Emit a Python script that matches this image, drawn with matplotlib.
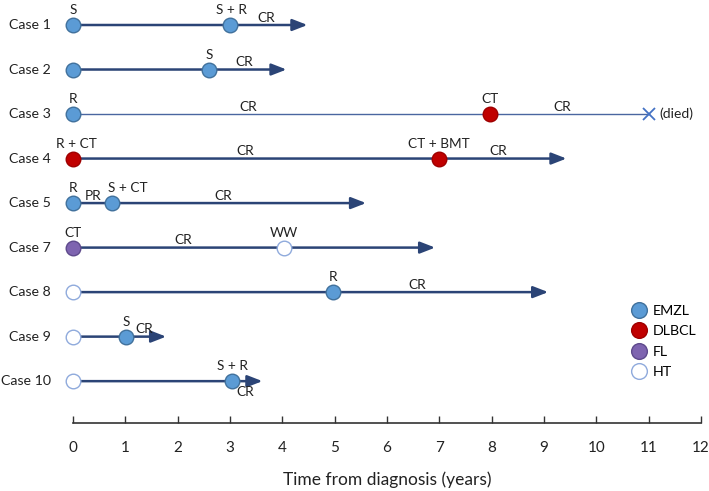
import matplotlib.pyplot as plt
from matplotlib.lines import Line2D

plt.rcParams['font.family'] = ['Lato', 'DejaVu Sans']

cases = ['Case 1', 'Case 2', 'Case 3', 'Case 4', 'Case 5', 'Case 7', 'Case 8', 'Case 9', 'Case 10']
# end of each timeline (years)
ends = [4.48, 4.08, 11.0, 9.43, 5.6, 6.92, 9.08, 1.78, 3.62]
# events: (case index, time, histology, label)
events = [
    (0, 0, 'EMZL', 'S'), (0, 3.0, 'EMZL', 'S + R'),
    (1, 0, 'EMZL', ''), (1, 2.6, 'EMZL', 'S'),
    (2, 0, 'EMZL', 'R'), (2, 7.97, 'DLBCL', 'CT'),
    (3, 0, 'DLBCL', 'R + CT'), (3, 7.0, 'DLBCL', 'CT + BMT'),
    (4, 0, 'EMZL', 'R'), (4, 0.75, 'EMZL', 'S + CT'),
    (5, 0, 'FL', 'CT'), (5, 4.03, 'HT', 'WW'),
    (6, 0, 'HT', ''), (6, 4.97, 'EMZL', 'R'),
    (7, 0, 'HT', ''), (7, 1.02, 'EMZL', 'S'),
    (8, 0, 'HT', ''), (8, 3.03, 'EMZL', 'S + R'),
]
# response labels: (case index, time, label, above)
responses = [
    (0, 3.7, 'CR', True), (1, 3.27, 'CR', True),
    (2, 3.35, 'CR', True), (2, 9.35, 'CR', True),
    (3, 3.3, 'CR', True), (3, 8.13, 'CR', True),
    (4, 0.38, 'PR', True), (4, 2.88, 'CR', True),
    (5, 2.1, 'CR', True), (6, 6.58, 'CR', True),
    (7, 1.36, 'CR', True), (8, 3.3, 'CR', False),
]
label_shift = {(3, 0): 0.07, (4, 0.75): 1.05, (8, 3.03): 3.05, (0, 3.0): 3.03}

face = {'EMZL': '#5B9BD5', 'DLBCL': '#C00000', 'FL': '#7E64B0', 'HT': 'white'}
edge = {'EMZL': '#41719C', 'DLBCL': '#9E0000', 'FL': '#5E4A8C', 'HT': '#8FAADC'}
navy = '#2B4476'

fig = plt.figure(figsize=(7.09, 4.91), dpi=100)
ax = fig.add_axes([73 / 709, 1 - 423 / 491, 628 / 709, 413 / 491])
ax.set_xlim(0, 12)
ax.set_ylim(8.94, -0.337)

for i, end in enumerate(ends):
    if i == 2:
        ax.plot([0, end], [i, i], color='#4A66A0', lw=1.0, zorder=1)
        ax.plot(end, i, marker='x', color='#4472C4', ms=9, mew=1.3, clip_on=False)
        ax.text(end + 0.2, i, '(died)', fontsize=10, va='center', color='#222222')
    else:
        ax.annotate('', xy=(end, i), xytext=(0, i),
                    arrowprops=dict(arrowstyle='-|>,head_length=0.9,head_width=0.35',
                                    color=navy, lw=1.8, shrinkA=0, shrinkB=0),
                    zorder=1)

for i, t, h, lab in events:
    ax.plot(t, i, 'o', ms=10.5, mfc=face[h], mec=edge[h], mew=1.0, clip_on=False, zorder=3)
    if lab:
        ax.text(label_shift.get((i, t), t), i - 0.2, lab, fontsize=9.8,
                ha='center', va='bottom', color='#222222')

for i, t, lab, above in responses:
    if above:
        ax.text(t, i - 0.03, lab, fontsize=9.8, ha='center', va='bottom', color='#222222')
    else:
        ax.text(t, i + 0.12, lab, fontsize=9.8, ha='center', va='top', color='#222222')

for i, c in enumerate(cases):
    ax.text(-0.42, i, c, fontsize=10.2, ha='right', va='center', color='#222222')

for s in ['top', 'right', 'left']:
    ax.spines[s].set_visible(False)
ax.spines['bottom'].set_bounds(0, 12)
ax.spines['bottom'].set_color('#333333')
ax.spines['bottom'].set_linewidth(1.2)
ax.set_yticks([])
ax.set_xticks(range(13))
ax.tick_params(axis='x', direction='in', length=5, width=1.0, color='#333333',
               labelsize=11, labelcolor='#222222', pad=13)
ax.set_xlabel('Time from diagnosis (years)', fontsize=12.5, color='#222222', labelpad=12)

handles = [Line2D([], [], ls='', marker='o', ms=11.3, mfc=face[h], mec=edge[h], mew=1.0)
           for h in ['EMZL', 'DLBCL', 'FL', 'HT']]
ax.legend(handles, ['EMZL', 'DLBCL', 'FL', 'HT'], frameon=False, fontsize=10.3,
          loc='upper left', bbox_to_anchor=(618 / 709, 1 - 292 / 491),
          bbox_transform=fig.transFigure, handletextpad=0.35, labelspacing=0.58,
          handlelength=1.2)

fig.savefig('out.png', dpi=100)
